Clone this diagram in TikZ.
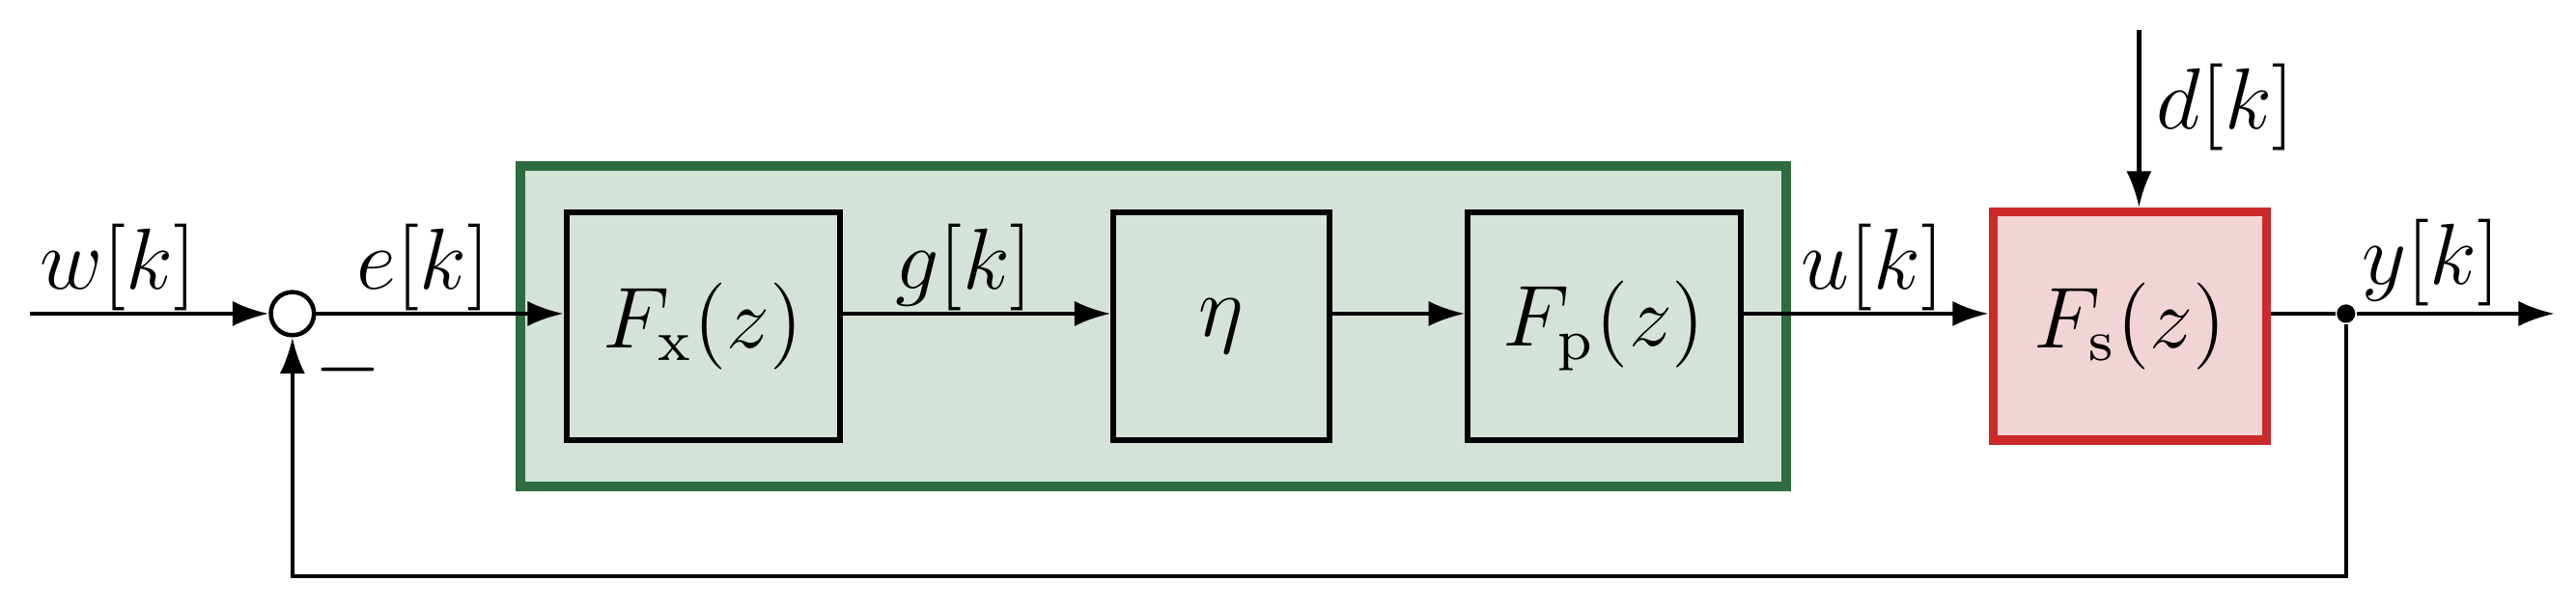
\documentclass[tikz,border=0pt]{standalone}
\usetikzlibrary{arrows.meta}
\definecolor{gfill}{HTML}{D5E2D8}
\definecolor{gdraw}{HTML}{2E6B3E}
\definecolor{rfill}{HTML}{F2D3D6}
\definecolor{rdraw}{HTML}{CC2A2A}
\begin{document}
\begin{tikzpicture}[x=0.008cm,y=-0.008cm,
  blk/.style={draw,line width=0.8pt,minimum width=1.33cm,minimum height=1.11cm,inner sep=0pt},
  sig/.style={line width=0.6pt,-{Latex[length=5pt,width=3.5pt]}},
  ln/.style={line width=0.6pt},
  lab/.style={inner sep=1pt}]
\useasboundingbox (0,0) rectangle (1568,371);
\node[draw=gdraw,fill=gfill,line width=1.3pt,minimum width=6.16cm,minimum height=1.56cm,inner sep=0pt] (grp) at (702,198.5) {};
\node[blk,font=\large] (fx) at (428,198.5) {$F_{\mathrm{x}}(z)$};
\node[blk,minimum width=1.05cm,font=\large] (eta) at (743.5,198.5) {$\eta$};
\node[blk,font=\large] (fp) at (976.5,198.5) {$F_{\mathrm{p}}(z)$};
\node[blk,draw=rdraw,fill=rfill,line width=1.3pt,font=\large] (fs) at (1296.5,198.5) {$F_{\mathrm{s}}(z)$};
\node[draw,circle,line width=0.6pt,minimum size=0.21cm,inner sep=0pt] (sum) at (178,191) {};
\coordinate (in) at (18,191);
\coordinate (dtop) at (1302,18);
\coordinate (out) at (1555,191);
\node[circle,fill,inner sep=0pt,minimum size=0.09cm] (br) at (1428,191) {};
\coordinate (c1) at (1428,351);
\coordinate (c2) at (178,351);
\draw[sig] (in) -- (sum);
\draw[sig] (sum) -- (fx.west |- sum);
\draw[sig] (fx.east |- sum) -- (eta.west |- sum);
\draw[sig] (eta.east |- sum) -- (fp.west |- sum);
\draw[sig] (fp.east |- sum) -- (fs.west |- sum);
\draw[sig] (dtop) -- (dtop |- fs.north);
\draw[ln] (fs.east |- sum) -- (br);
\draw[sig] (br) -- (out);
\draw[sig] (br) -- (c1) -- (c2) -- (sum);
\node[lab] (lw) at (72,163) {\large$w[k]$};
\node[lab] (le) at (258,163) {\large$e[k]$};
\node[lab] (lm) at (212,225) {\large$-$};
\node[lab] (lg) at (587,163) {\large$g[k]$};
\node[lab] (lu) at (1140,163) {\large$u[k]$};
\node[lab] (ld) at (1355,65) {\large$d[k]$};
\node[lab] (ly) at (1480,160) {\large$y[k]$};
\end{tikzpicture}
\end{document}
